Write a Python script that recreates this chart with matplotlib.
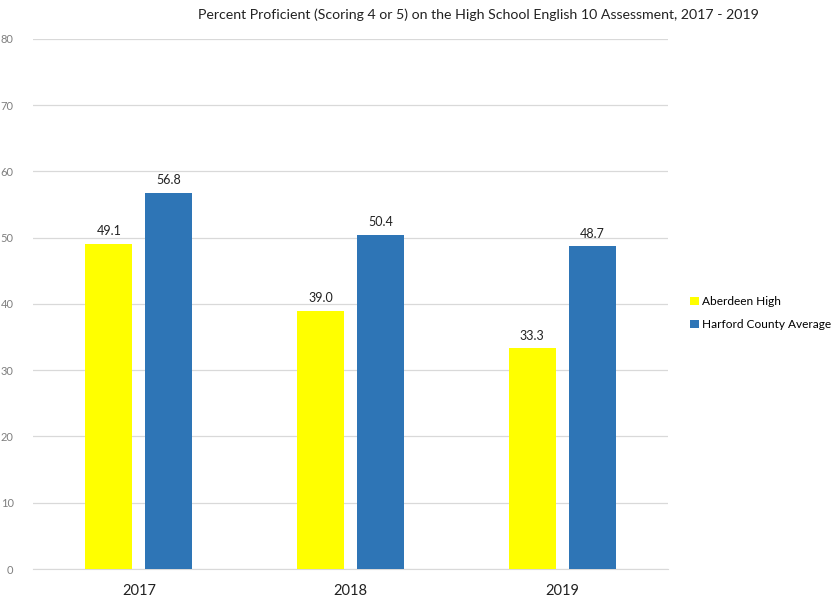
import numpy as np
import matplotlib
matplotlib.use("Agg")
import matplotlib.pyplot as plt

plt.rcParams["font.family"] = ["Lato", "DejaVu Sans"]

years = ["2017", "2018", "2019"]
aberdeen = [49.1, 39.0, 33.3]
harford = [56.8, 50.4, 48.7]
yticks = [0, 10, 20, 30, 40, 50, 60, 70, 80]

fig = plt.figure(figsize=(8.34, 5.97), dpi=100)
ax = fig.add_axes([0.0396, 0.0469, 0.7614, 0.8878])

x = np.arange(len(years))
w = 0.222
off = 0.142

b1 = ax.bar(x - off, aberdeen, w, color="#ffff00", label="Aberdeen High", zorder=3)
b2 = ax.bar(x + off, harford, w, color="#2e75b6", label="Harford County Average", zorder=3)

for bars, vals in [(b1, aberdeen), (b2, harford)]:
    for b, v in zip(bars, vals):
        ax.text(b.get_x() + b.get_width() / 2, v + 1.0, f"{v:.1f}",
                ha="center", va="bottom", fontsize=9, color="#222222")

ax.set_xlim(-0.5, 2.5)
ax.set_ylim(0, 80)
ax.set_yticks(yticks)
ax.set_xticks(x)
ax.set_xticklabels(years, fontsize=10.5, color="#222222")
ax.tick_params(axis="y", labelsize=8, colors="#7f7f7f", length=0, pad=14)
ax.tick_params(axis="x", length=0, pad=11)
ax.grid(axis="y", color="#d9d9d9", linewidth=0.9, zorder=0)
for s in ["top", "right", "left"]:
    ax.spines[s].set_visible(False)
ax.spines["bottom"].set_color("#d9d9d9")

fig.text(0.574, 0.975,
         "Percent Proficient (Scoring 4 or 5) on the High School English 10 Assessment, 2017 - 2019",
         ha="center", va="center", fontsize=10.2, color="#222222")

fig.legend(handles=[b1, b2], loc="center left", bbox_to_anchor=(0.815, 0.475),
           frameon=False, fontsize=8.6, handlelength=0.7, handleheight=0.7,
           handletextpad=0.3, labelspacing=1.0)

fig.savefig("out.png", dpi=100)
